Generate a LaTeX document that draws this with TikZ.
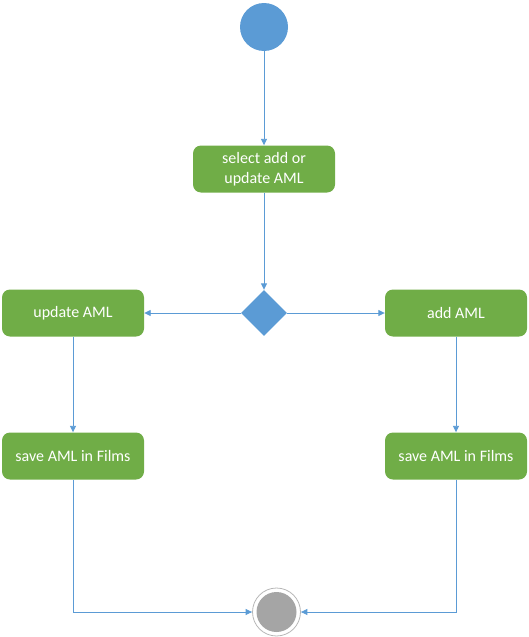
\documentclass[tikz,border=0pt]{standalone}
\usepackage{fontspec}
\setmainfont{Carlito}
\usetikzlibrary{shapes.geometric,arrows.meta}
\definecolor{actgreen}{HTML}{70AD47}
\definecolor{flowblue}{HTML}{5B9BD5}
\definecolor{endgrey}{HTML}{A5A5A5}
\begin{document}
\begin{tikzpicture}[x=1pt,y=-1pt,
  action/.style={rectangle, rounded corners=8pt, fill=actgreen, draw=none,
    minimum width=142pt, minimum height=47pt, inner sep=0pt,
    text=white, font=\fontsize{16}{20}\selectfont, align=center},
  flow/.style={draw=flowblue, line width=0.9pt,
    -{Triangle[length=6.5pt,width=6pt]}}]
\useasboundingbox (0,0) rectangle (529,637);
% start and end states
\node (start) [circle, fill=flowblue, minimum size=48pt, inner sep=0pt] at (264,27) {};
\node (stop) [circle, draw=endgrey!80, line width=0.8pt, fill=white, minimum size=48pt, inner sep=0pt] at (276.5,612) {};
\node [circle, fill=endgrey, minimum size=40pt, inner sep=0pt] at (stop) {};
% activities
\node (select) [action] at (264,169) {select add or\\update AML};
\node (choice) [diamond, fill=flowblue, minimum width=46pt, minimum height=46pt, inner sep=0pt] at (264,313) {};
\node (update) [action] at (73,313) {update AML};
\node (add) [action] at (456,313) {add AML};
\node (saveL) [action] at (73,456) {save AML in Films};
\node (saveR) [action] at (456,456) {save AML in Films};
% connectors
\draw[flow] (start) -- (select);
\draw[flow] (select) -- (choice);
\draw[flow] (choice) -- (update);
\draw[flow] (choice) -- (add);
\draw[flow] (update) -- (saveL);
\draw[flow] (add) -- (saveR);
\draw[flow] (saveL.south) |- (stop.west);
\draw[flow] (saveR.south) |- (stop.east);
\end{tikzpicture}
\end{document}
